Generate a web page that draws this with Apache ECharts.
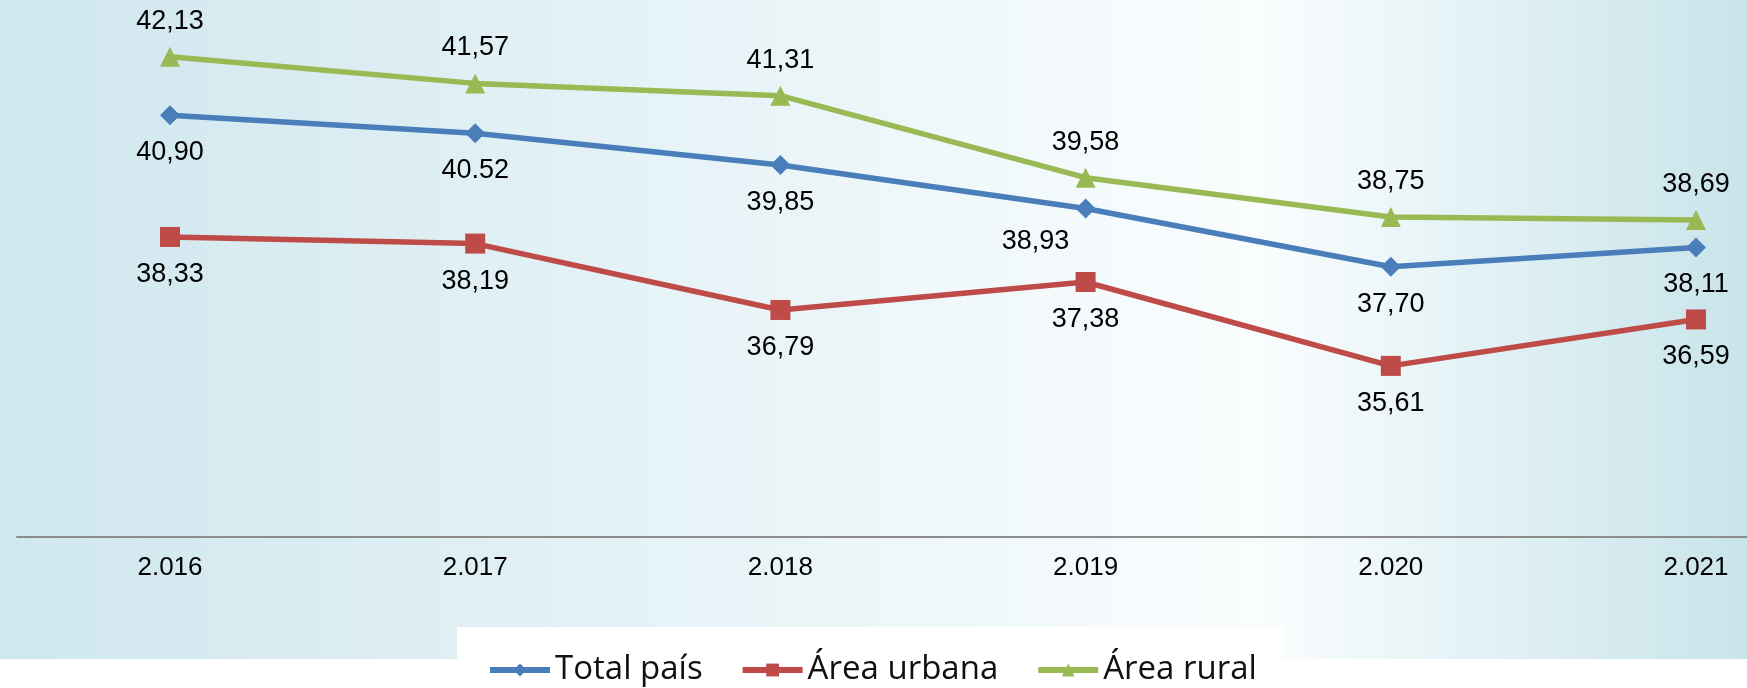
<!DOCTYPE html>
<html>
<head>
<meta charset="utf-8">
<style>
  html, body { margin: 0; padding: 0; background: #fff; }
  #chart { width: 1747px; height: 688px; }
</style>
<script src="https://cdn.jsdelivr.net/npm/echarts@6/dist/echarts.min.js"></script>
</head>
<body>
<div id="chart"></div>
<script>
const years = ['2.016', '2.017', '2.018', '2.019', '2.020', '2.021']
const totalPais = [40.90, 40.52, 39.85, 38.93, 37.70, 38.11]
const areaUrbana = [38.33, 38.19, 36.79, 37.38, 35.61, 36.59]
const areaRural = [42.13, 41.57, 41.31, 39.58, 38.75, 38.69]

const fmt = (v) => v.toFixed(2).replace('.', ',')

const chart = echarts.init(document.getElementById('chart'), null, { renderer: 'canvas' })

const labelFont = { fontFamily: 'Liberation Sans, Arial, sans-serif', fontSize: 27, color: '#000' }

// blue series: one label sits left-below, one uses a dot as separator
const totalData = totalPais.map((v, i) => {
  const item = { value: v }
  if (i === 3) item.label = { position: 'bottom', offset: [-50, -4] }
  if (i === 1) item.label = { formatter: () => v.toFixed(2) }
  return item
})

const option = {
  animation: false,
  graphic: [
    {
      type: 'rect',
      z: -10,
      silent: true,
      shape: { x: 0, y: 0, width: 1747, height: 659 },
      style: {
        fill: new echarts.graphic.LinearGradient(0, 0, 1, 0, [
          { offset: 0, color: '#cfe7ee' },
          { offset: 0.72, color: '#fafdfe' },
          { offset: 1, color: '#c8e4ea' }
        ])
      }
    }
  ],
  grid: [
    // plot area: points sit on the band centres of the original chart
    { left: 170, right: 51, top: 15.6, bottom: 151 },
    // full-width strip only used for the horizontal axis line
    { left: 17, right: 0, top: 15.6, bottom: 151 }
  ],
  legend: {
    left: 457,
    top: 627,
    padding: [23, 26, 20, 30],
    backgroundColor: '#fff',
    itemWidth: 60,
    itemHeight: 16,
    itemGap: 37,
    lineStyle: { width: 6 },
    textStyle: { fontFamily: 'Open Sans, sans-serif', fontSize: 33, color: '#111', lineHeight: 40 },
    data: ['Total país', 'Área urbana', 'Área rural']
  },
  xAxis: [
    {
      type: 'category',
      gridIndex: 0,
      data: years,
      boundaryGap: false,
      axisLine: { show: false },
      axisTick: { show: false },
      axisLabel: { margin: 18, fontFamily: 'Liberation Sans, Arial, sans-serif', fontSize: 26, color: '#000' },
      splitLine: { show: false }
    },
    {
      type: 'value',
      gridIndex: 1,
      axisLine: { show: true, lineStyle: { color: '#8c8c8c', width: 2 } },
      axisTick: { show: false },
      axisLabel: { show: false },
      splitLine: { show: false }
    }
  ],
  yAxis: [
    { type: 'value', gridIndex: 0, min: 32, max: 43, show: false, splitLine: { show: false } },
    { type: 'value', gridIndex: 1, min: 32, max: 43, show: false, splitLine: { show: false } }
  ],
  series: [
    {
      name: 'Total país',
      type: 'line',
      data: totalData,
      symbol: 'diamond',
      symbolSize: 20,
      lineStyle: { color: '#4a7ebb', width: 5.5 },
      itemStyle: { color: '#4a7ebb' },
      label: { show: true, position: 'bottom', distance: 14, formatter: p => fmt(p.value), ...labelFont }
    },
    {
      name: 'Área urbana',
      type: 'line',
      data: areaUrbana,
      symbol: 'rect',
      symbolSize: 20,
      lineStyle: { color: '#be4b48', width: 5.5 },
      itemStyle: { color: '#be4b48' },
      label: { show: true, position: 'bottom', distance: 14, formatter: p => fmt(p.value), ...labelFont }
    },
    {
      name: 'Área rural',
      type: 'line',
      data: areaRural,
      symbol: 'triangle',
      symbolSize: 20,
      lineStyle: { color: '#98b954', width: 5.5 },
      itemStyle: { color: '#98b954' },
      label: { show: true, position: 'top', distance: 12, formatter: p => fmt(p.value), ...labelFont }
    }
  ]
}

chart.setOption(option)
</script>
</body>
</html>
